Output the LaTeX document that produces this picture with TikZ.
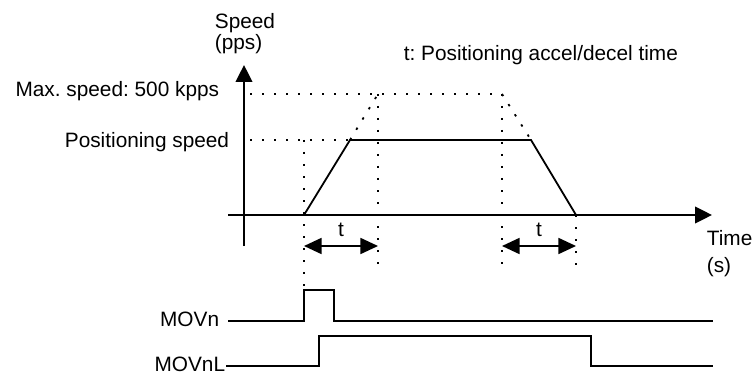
\documentclass[tikz,border=0pt]{standalone}
\usepackage{fontspec}
\setmainfont{Liberation Sans}
\usetikzlibrary{arrows.meta}

\tikzset{
  dots/.style={line width=0.9pt, dash pattern=on 1.2pt off 4.8pt},
  lbl/.style={font=\fontsize{10.4}{12}\selectfont\frenchspacing, inner sep=0pt},
  tip/.style={-{Triangle[length=8.5pt,width=8.3pt]}},
  span/.style={{Triangle[length=8.8pt,width=8pt]}-{Triangle[length=8.8pt,width=8pt]}},
}

\begin{document}
\begin{tikzpicture}[x=0.5pt, y=-0.5pt, line width=0.9pt]
        \useasboundingbox (0,0) rectangle (755,374);
        % Coordinates
        \coordinate (XL) at (228,215);
        \coordinate (XR) at (712,215);
        \coordinate (YB) at (244,246);
        \coordinate (YT) at (244,65);
        \coordinate (A) at (304,215);
        \coordinate (B) at (350,140);
        \coordinate (C) at (531,140);
        \coordinate (D) at (576,215);
        \coordinate (E) at (378,94);
        \coordinate (F) at (502,94);
        \coordinate (G) at (250,94);
        \coordinate (H) at (250,140);
        \coordinate (I) at (304,140);
        \coordinate (J) at (304,288);
        \coordinate (K) at (378,268);
        \coordinate (L) at (502,270);
        \coordinate (M) at (576,273);
        \coordinate (N) at (304,246);
        \coordinate (P) at (378,246);
        \coordinate (Q) at (502,246);
        \coordinate (R) at (576,246);
        % MOVn signal
        \coordinate (S1) at (228,321);
        \coordinate (S2) at (304,321);
        \coordinate (S3) at (304,290);
        \coordinate (S4) at (334,290);
        \coordinate (S5) at (334,321);
        \coordinate (S6) at (713,321);
        % MOVnL signal
        \coordinate (T1) at (226,366);
        \coordinate (T2) at (319,366);
        \coordinate (T3) at (319,336);
        \coordinate (T4) at (591,336);
        \coordinate (T5) at (591,366);
        \coordinate (T6) at (713,366);

        % Drawing
        \draw[tip, line width=1pt] (XL) -- (XR);
        \draw[tip, line width=1pt] (YB) -- (YT);
        \draw (A) -- (B) -- (C) -- (D);
        \draw[dots] (G) -- (F);
        \draw[dots] (H) -- (B);
        \draw[dots] (B) -- (E);
        \draw[dots] (F) -- (C);
        \draw[dots] (I) -- (J);
        \draw[dots] (E) -- (K);
        \draw[dots] (F) -- (L);
        \draw[dots] (D) -- (M);
        \draw[span] (N) -- (P);
        \draw[span] (Q) -- (R);
        \draw (S1) -- (S2) -- (S3) -- (S4) -- (S5) -- (S6);
        \draw (T1) -- (T2) -- (T3) -- (T4) -- (T5) -- (T6);

        % Labels
        \node[lbl, anchor=base west] (speed) at (214,28.7) {Speed};
        \node[lbl, anchor=base west] (pps) at (214,50) {(pps)};
        \node[lbl, anchor=base east] (maxspd) at (220,96.7) {Max. speed: 500 kpps};
        \node[lbl, anchor=base east] (posspd) at (230,147.5) {Positioning speed};
        \node[lbl, anchor=base west] (note) at (403,61) {t: Positioning accel/decel time};
        \node[lbl, anchor=base] (t1) at (341,236.7) {t};
        \node[lbl, anchor=base] (t2) at (539,236.7) {t};
        \node[lbl, anchor=base west] (time) at (706,245.7) {Time};
        \node[lbl, anchor=base west] (sec) at (706,272) {(s)};
        \node[lbl, anchor=base east] (movn) at (220,326.7) {MOVn};
        \node[lbl, anchor=base east] (movnl) at (226,371.7) {MOVnL};
    \end{tikzpicture}
\end{document}
